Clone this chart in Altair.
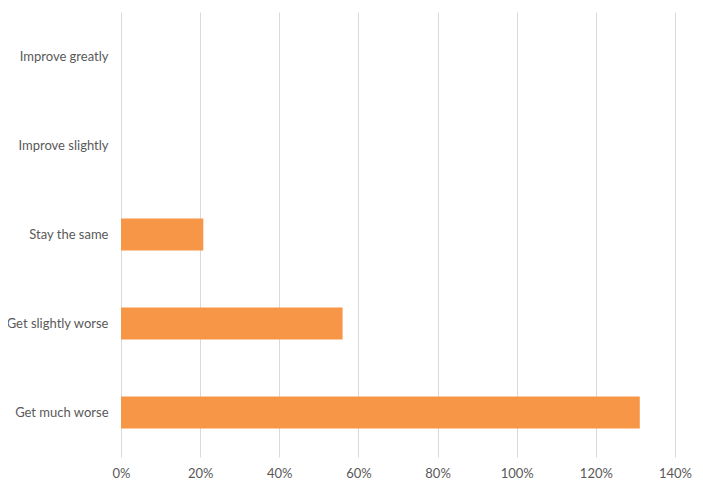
import altair as alt
import pandas as pd

categories = ["Improve greatly", "Improve slightly", "Stay the same", "Get slightly worse", "Get much worse"]
values = [0.0, 0.0, 0.208, 0.56, 1.311]
x_ticks = [0, 0.2, 0.4, 0.6, 0.8, 1.0, 1.2, 1.4]

df = pd.DataFrame({"category": categories, "value": values})

FONT = "Lato"
GRAY = "#595959"

chart = alt.Chart(df).mark_bar(color="#F79646").encode(
    x=alt.X("value:Q",
            scale=alt.Scale(domain=[0, 1.4], nice=False),
            axis=alt.Axis(values=x_ticks, format=".0%", title=None, domain=False, ticks=False,
                          grid=True, gridColor="#d9d9d9", gridWidth=1, labelFlush=False,
                          labelPadding=10, labelFontSize=13, labelColor=GRAY, labelFont=FONT)),
    y=alt.Y("category:N", sort=categories,
            scale=alt.Scale(paddingInner=0.64, paddingOuter=0.32),
            axis=alt.Axis(title=None, domain=False, ticks=False, grid=False,
                          labelPadding=13, labelFontSize=13, labelColor=GRAY, labelFont=FONT)),
).properties(
    width=554, height=445,
    autosize=alt.AutoSizeParams(type="none"),
    padding={"left": 113, "top": 4, "right": 20, "bottom": 30},
).configure_view(stroke=None)

chart.save("out.html", embed_options={"renderer": "svg", "actions": False})
